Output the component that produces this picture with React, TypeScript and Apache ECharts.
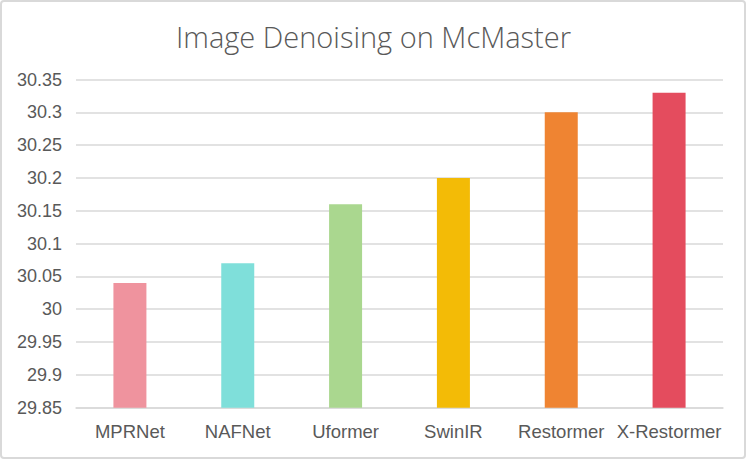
import React, { useEffect, useRef } from "react";
import * as echarts from "echarts";

const categories = ["MPRNet", "NAFNet", "Uformer", "SwinIR", "Restormer", "X-Restormer"];
const psnrValues = [30.04, 30.07, 30.16, 30.2, 30.3, 30.33];
const barColors = ["#EF939E", "#7FDFDA", "#AAD78F", "#F3BB06", "#EF8432", "#E44C5E"];
const yMin = 29.85;
const yMax = 30.35;
const yStep = 0.05;
const titleText = "Image Denoising on McMaster";

export default function App() {
  const ref = useRef<HTMLDivElement>(null);
  useEffect(() => {
    if (!ref.current) return;
    const chart = echarts.init(ref.current, null, { renderer: "svg" });
    const font = "'Liberation Sans', Helvetica, Arial, sans-serif";
    chart.setOption({
      animation: false,
      backgroundColor: "#ffffff",
      title: {
        text: titleText,
        left: "center",
        top: 17,
        textStyle: { fontFamily: "'Open Sans', 'Liberation Sans', sans-serif", fontSize: 29, fontWeight: 300, color: "#595959" },
      },
      grid: { left: 76, right: 24, top: 79.5, bottom: 52.3, containLabel: false },
      xAxis: {
        type: "category",
        data: categories,
        axisLine: { show: true, lineStyle: { color: "#d9d9d9", width: 1.5 } },
        axisTick: { show: false },
        axisLabel: { fontFamily: font, fontSize: 18.5, color: "#595959", margin: 14, interval: 0 },
      },
      yAxis: {
        type: "value",
        min: yMin,
        max: yMax,
        interval: yStep,
        axisLine: { show: false },
        axisTick: { show: false },
        splitLine: { lineStyle: { color: "#d9d9d9", width: 1.5 } },
        axisLabel: {
          fontFamily: font,
          fontSize: 18,
          color: "#595959",
          margin: 14,
          formatter: (v: number) => String(parseFloat(v.toFixed(2))),
        },
      },
      series: [
        {
          type: "bar",
          data: psnrValues.map((v, i) => ({ value: v, itemStyle: { color: barColors[i] } })),
          barWidth: 33,
        },
      ],
      graphic: [
        {
          type: "rect",
          shape: { x: 1, y: 1, width: 744, height: 457, r: 3 },
          style: { fill: "none", stroke: "#d9d9d9", lineWidth: 2 },
          silent: true,
        },
      ],
    });
    return () => chart.dispose();
  }, []);
  return (
    <div
      ref={ref}
      style={{ position: "fixed", left: 0, top: 0, width: 747, height: 460 }}
    />
  );
}
